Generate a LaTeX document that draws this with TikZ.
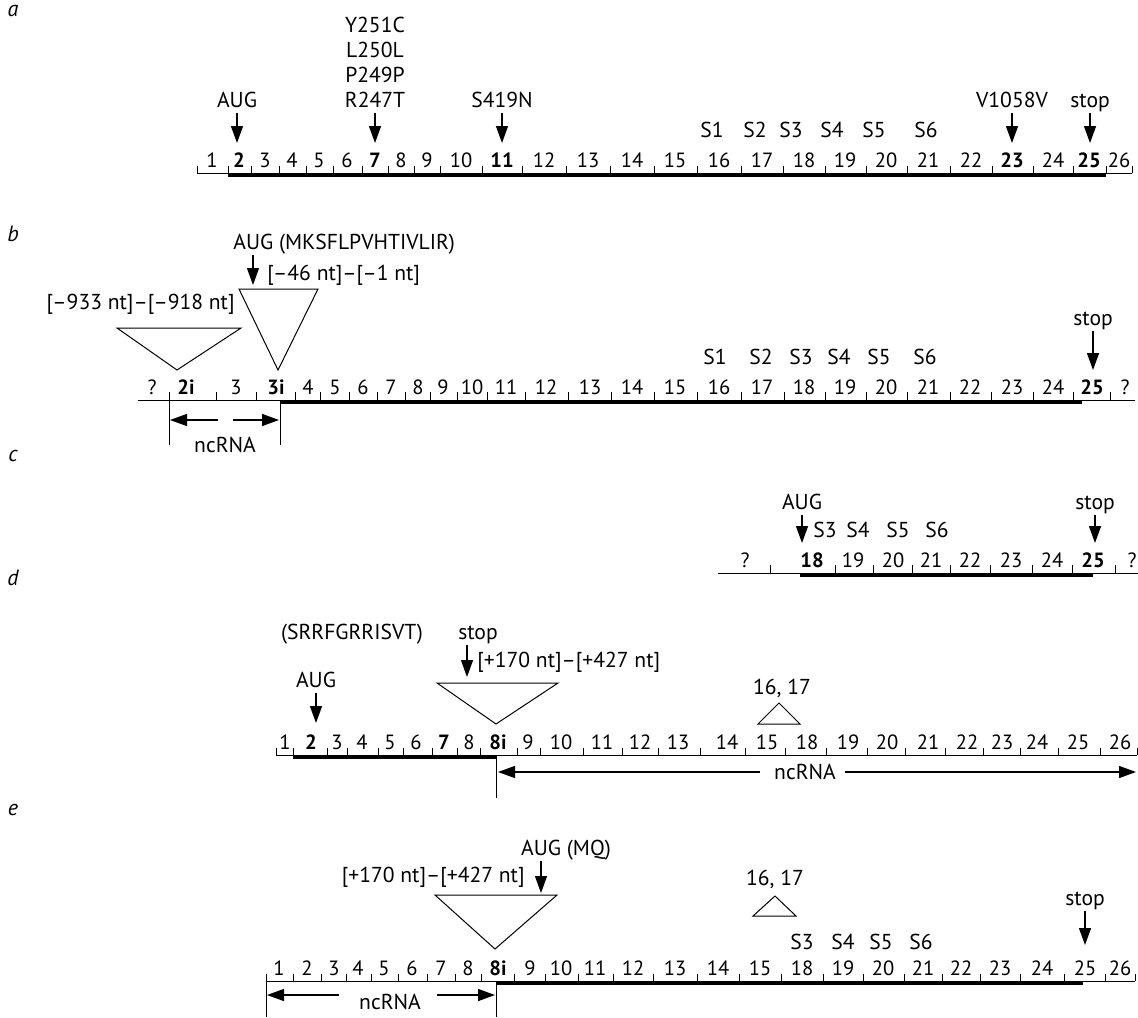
\documentclass[tikz,border=0pt]{standalone}
\usepackage{fontspec}
\setmainfont{PT Sans}
\usetikzlibrary{arrows.meta}

\begin{document}
\begin{tikzpicture}[x=0.5pt,y=-0.5pt,
  lbl/.style={inner sep=0pt,anchor=base,text depth=2.5pt,font=\fontsize{10.8}{12}\selectfont},
  num/.style={inner sep=0pt,anchor=base,font=\fontsize{10.3}{12}\selectfont},
  tag/.style={inner sep=0pt,anchor=base,font=\fontsize{11}{12}\selectfont\itshape},
  rna/.style={line width=0.5pt},
  cds/.style={line width=2pt},
  ins/.style={line width=0.5pt,line join=miter},
  arr/.style={line width=0.7pt,-{Triangle[length=8.5pt,width=6pt]}}]
\useasboundingbox (0,0) rectangle (1138,1017);

% panel letters
\foreach \p/\y in {a/17,b/241,c/461,d/585,e/815}
  \node[tag] (tag\p) at (13,\y) {\p};

% ---- a: exons 1-26
\draw[cds] (228,175) -- (1106,175);
\draw[rna] (197,173) -- (1132,173);
\foreach \x in {197,228,251,279,306,333,362,388,414,440,482,522,566,610,654,697,741,783,825,866,907,950,992,1033,1073,1106,1132}
  \draw[rna] (\x,173) -- (\x,166);
\foreach \x/\s [count=\i] in {212/1,239/{\textbf{2}},265/3,292/4,319/5,347/6,375/{\textbf{7}},401/8,427/9,461/10,502/{\textbf{11}},544/12,588/13,632/14,675/15,719/16,762/17,804/18,845/19,886/20,928/21,971/22,1012/{\textbf{23}},1053/24,1089/{\textbf{25}},1119/26}
  \node[num] (an\i) at (\x,167) {\s};
\foreach \t [count=\i] in {Y251C,L250L,P249P,R247T}
  \node[lbl] (amut\i) at (375,7.5+25*\i) {\t};
\node[lbl] (aaug) at (237,107.5) {AUG};
\node[lbl] (asn) at (502,107.5) {S419N};
\node[lbl] (avv) at (1012,107.5) {V1058V};
\node[lbl] (astop) at (1090,107.5) {stop};
\foreach \m/\x in {aaug/237,amut4/375,asn/502,avv/1012,astop/1090}
  {\coordinate (\m tip) at (\x,143); \draw[arr] (\m.south) -- (\m tip);}
\foreach \x [count=\i] in {712,755,791,832,874,926}
  \node[lbl] (aS\i) at (\x,137.5) {S\i};

% ---- b
\draw[cds] (281,402) -- (1082,402);
\draw[rna] (138,400) -- (1135,400);
\foreach \x in {169,216,256,295,320,349,377,405,430,457,487,525,568,611,654,697,741,784,825,866,907,950,991,1033,1073,1110}
  \draw[rna] (\x,400) -- (\x,392);
\foreach \x/\s [count=\i] in {152/?,186/{\textbf{2i}},236/3,276/{\textbf{3i}},308/4,335/5,363/6,391/7,418/8,443/9,472/10,506/11,546/12,590/13,632/14,675/15,719/16,762/17,804/18,845/19,886/20,928/21,970/22,1012/23,1053/24,1092/{\textbf{25}},1125/?}
  \node[num] (bn\i) at (\x,394) {\s};
\node[lbl,anchor=base west] (baug) at (233,249.5) {AUG (MKSFLPVHTIVLIR)};
\coordinate (baugtip) at (253,285);
\draw[arr] (baugtip |- baug.south) -- (baugtip);
\node[lbl,anchor=base west] (bins2) at (267,280) {[–46 nt]–[–1 nt]};
\node[lbl,anchor=base east] (bins1) at (235,309) {[–933 nt]–[–918 nt]};
\draw[ins] (117,328) -- (241,328) -- (177,370) -- cycle;
\draw[ins] (239,289) -- (318,289) -- (278,370) -- cycle;
\foreach \x [count=\i] in {715,761,801,839,879,925}
  \node[lbl] (bS\i) at (\x,364.5) {S\i};
\node[lbl] (bstop) at (1093,325.5) {stop};
\coordinate (bstoptip) at (1093,370);
\draw[arr] (bstop.south) -- (bstoptip);
\foreach \x in {169,280}
  \draw[rna] (\x,400) -- (\x,445);
\coordinate (bL) at (170,420);
\coordinate (bR) at (279,420);
\draw[arr] ([xshift=24pt]bL) -- (bL);
\draw[arr] ([xshift=-23pt]bR) -- (bR);
\node[lbl] (bnc) at (225,452) {ncRNA};

% ---- c
\draw[cds] (800,575) -- (1093,575);
\draw[rna] (718,573) -- (1138,573);
\foreach \x in {770,835,873,912,950,990,1032,1072,1115}
  \draw[rna] (\x,573) -- (\x,565);
\foreach \x/\s [count=\i] in {745/?,812/{\textbf{18}},853/19,893/20,931/21,970/22,1011/23,1052/24,1093/{\textbf{25}},1132/?}
  \node[num] (cn\i) at (\x,567) {\s};
\node[lbl] (caug) at (802,509.5) {AUG};
\node[lbl] (cstop) at (1095,509.5) {stop};
\foreach \m/\x in {caug/802,cstop/1095}
  {\coordinate (\m tip) at (\x,543); \draw[arr] (\m.south) -- (\m tip);}
\foreach \x/\i in {825/3,858/4,898/5,937/6}
  \node[lbl] (cS\i) at (\x,537.5) {S\i};

% ---- d
\draw[cds] (293,757) -- (496,757);
\draw[rna] (276,755) -- (1137,755);
\foreach \x in {276,293,327,347,378,403,432,457,480,517,540,583,622,658,700,745,785,826,867,905,945,983,1020,1058,1100,1137}
  \draw[rna] (\x,755) -- (\x,748);
\foreach \x/\s [count=\i] in {285/1,311/{\textbf{2}},337/3,362/4,390/5,416/6,444/{\textbf{7}},469/8,498/{\textbf{8i}},528/9,561/10,602/11,640/12,678/13,727/14,767/15,807/18,848/19,887/20,928/21,967/22,1002/23,1037/24,1078/25,1120/26}
  \node[num] (dn\i) at (\x,749) {\s};
\node[lbl] (dpep) at (352,639.5) {(SRRFGRRISVT)};
\node[lbl] (dstop) at (478,639.5) {stop};
\coordinate (dstoptip) at (467,677);
\draw[arr] (dstoptip |- dstop.south) -- (dstoptip);
\node[lbl,anchor=base west] (dins) at (477,667) {[+170 nt]–[+427 nt]};
\draw[ins] (437,683) -- (558,683) -- (496,724) -- cycle;
\node[lbl] (daug) at (316,687.5) {AUG};
\coordinate (daugtip) at (316,723);
\draw[arr] (daug.south) -- (daugtip);
\node[lbl] (d1617) at (782,694.5) {16, 17};
\draw[ins] (758,724) -- (800,724) -- (779,703) -- cycle;
\draw[rna] (496,755) -- (496,798);
\coordinate (dL) at (498,772);
\coordinate (dR) at (1136,772);
\node[lbl] (dnc) at (805,779.5) {ncRNA};
\draw[arr] ([xshift=131pt]dL) -- (dL);
\draw[arr] ([xshift=-145.5pt]dR) -- (dR);

% ---- e
\draw[cds] (496,983) -- (1083,983);
\draw[rna] (266,981) -- (1135,981);
\foreach \x in {266,293,321,346,371,398,427,455,481,514,545,578,613,653,697,739,781,823,863,904,942,980,1020,1064,1105,1135}
  \draw[rna] (\x,981) -- (\x,974);
\foreach \x/\s [count=\i] in {279/1,307/2,334/3,358/4,384/5,412/6,441/7,468/8,498/{\textbf{8i}},530/9,561/10,595/11,633/12,675/13,718/14,760/15,802/18,843/19,883/20,923/21,961/22,1000/23,1042/24,1085/25,1120/26}
  \node[num] (en\i) at (\x,975) {\s};
\node[lbl] (eaug) at (566,855.5) {AUG (MQ)};
\coordinate (eaugtip) at (541,893);
\draw[arr] (eaugtip |- eaug.south) -- (eaugtip);
\node[lbl,anchor=base east] (eins) at (525,882.5) {[+170 nt]–[+427 nt]};
\draw[ins] (435,895) -- (557,895) -- (495,949) -- cycle;
\node[lbl] (e1617) at (775,885.5) {16, 17};
\draw[ins] (753,916) -- (796,916) -- (775,896) -- cycle;
\node[lbl] (estop) at (1085,905.5) {stop};
\coordinate (estoptip) at (1085,945);
\draw[arr] (estop.south) -- (estoptip);
\foreach \x/\i in {802/3,843/4,881/5,921/6}
  \node[lbl] (eS\i) at (\x,949.5) {S\i};
\foreach \x in {266,496}
  \draw[rna] (\x,981) -- (\x,1017);
\coordinate (eL) at (267,995);
\coordinate (eR) at (495,995);
\node[lbl] (enc) at (390,1009.5) {ncRNA};
\draw[arr] ([xshift=36pt]eL) -- (eL);
\draw[arr] ([xshift=-29pt]eR) -- (eR);
\end{tikzpicture}
\end{document}
